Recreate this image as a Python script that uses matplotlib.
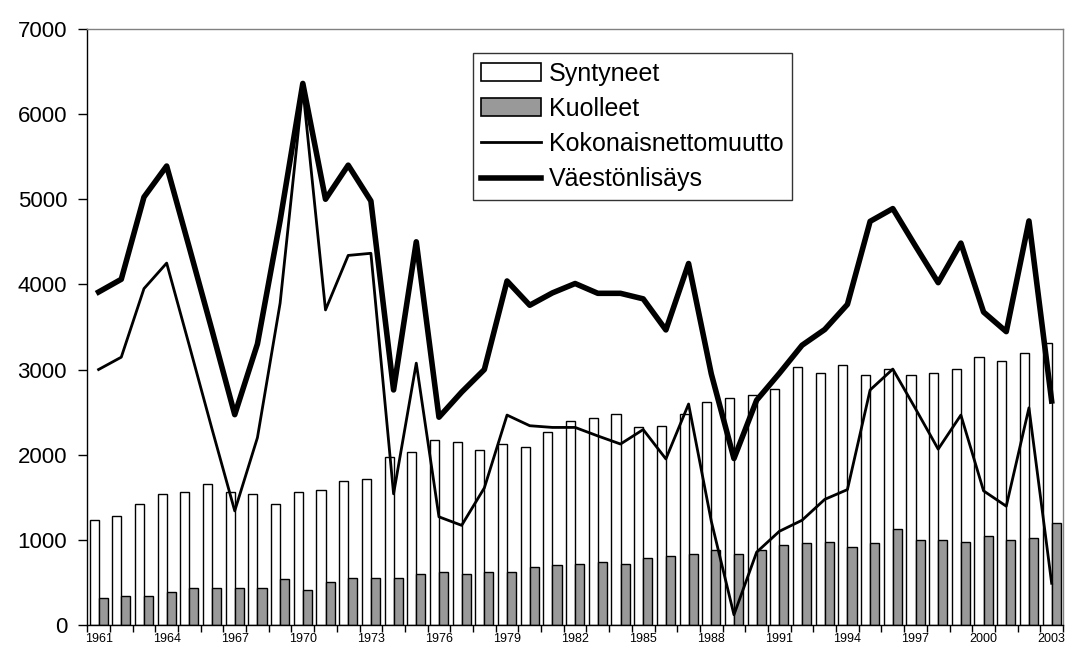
import numpy as np
import matplotlib
matplotlib.use("Agg")
import matplotlib.pyplot as plt
from matplotlib.patches import Patch
from matplotlib.lines import Line2D

plt.rcParams['font.family'] = ['Liberation Sans', 'DejaVu Sans']

# Years 1961-2003
years = list(range(1961, 2004))

syntyneet = [1230, 1280, 1425, 1540, 1560, 1660, 1560, 1540, 1425, 1560,
             1585, 1685, 1710, 1970, 2035, 2170, 2145, 2060, 2120, 2085,
             2270, 2400, 2430, 2480, 2320, 2340, 2480, 2620, 2670, 2700,
             2770, 3030, 2955, 3050, 2935, 3005, 2935, 2955, 3005, 3145,
             3100, 3190, 3310]

kuolleet = [320, 340, 340, 390, 440, 440, 440, 440, 535, 415,
            510, 555, 555, 555, 600, 625, 595, 625, 625, 675,
            700, 720, 740, 720, 790, 810, 835, 880, 835, 880,
            935, 960, 980, 910, 960, 1125, 1000, 1000, 980, 1050,
            1000, 1025, 1200]

nettomuutto = [3000, 3145, 3950, 4250, 3280, 2300, 1340, 2200, 3780, 6300,
               3700, 4340, 4365, 1540, 3075, 1270, 1170, 1610, 2465, 2340,
               2320, 2320, 2220, 2125, 2295, 1950, 2595, 1220, 120, 855,
               1100, 1230, 1475, 1590, 2760, 3005, 2540, 2065, 2465, 1575,
               1395, 2550, 490]

vaestonlisays = [3910, 4060, 5025, 5390, 4430, 3460, 2470, 3300, 4750, 6360,
                 5000, 5400, 4980, 2760, 4500, 2440, 2735, 3000, 4040, 3755,
                 3900, 4010, 3895, 3895, 3830, 3465, 4245, 2950, 1955, 2640,
                 2955, 3285, 3470, 3765, 4740, 4890, 4450, 4020, 4485, 3675,
                 3445, 4745, 2630]

x = np.arange(len(years))
w = 0.4

fig = plt.figure(figsize=(10.77, 6.5), dpi=100)
ax = fig.add_axes([0.081, 0.0385, 0.906, 0.917])

ax.bar(x - w / 2, syntyneet, width=w, color='white', edgecolor='black', linewidth=1.0, zorder=2)
ax.bar(x + w / 2, kuolleet, width=w, color='#999999', edgecolor='black', linewidth=1.0, zorder=2)
ax.plot(x, nettomuutto, color='black', linewidth=2.0, zorder=3)
ax.plot(x, vaestonlisays, color='black', linewidth=4.0, zorder=4)

ax.set_xlim(-0.5, len(years) - 0.5)
ax.set_ylim(0, 7000)
ax.set_yticks(range(0, 7001, 1000))
ax.tick_params(axis='y', labelsize=16, length=6.5, direction='out', width=1, pad=8)

# labels every third year at category centres, ticks at category boundaries
ax.set_xticks(x[::3])
ax.set_xticklabels([str(y) for y in years[::3]], fontsize=9)
ax.set_xticks(np.arange(-0.5, len(years), 1), minor=True)
ax.tick_params(axis='x', which='major', length=0, pad=6)
ax.tick_params(axis='x', which='minor', length=5, direction='out', width=1)

for side in ['top', 'right']:
    ax.spines[side].set_color('#808080')
    ax.spines[side].set_linewidth(1.0)
for side in ['left', 'bottom']:
    ax.spines[side].set_color('black')
    ax.spines[side].set_linewidth(1.0)

handles = [
    Patch(facecolor='white', edgecolor='black', linewidth=1.2),
    Patch(facecolor='#999999', edgecolor='black', linewidth=1.2),
    Line2D([], [], color='black', linewidth=2.0),
    Line2D([], [], color='black', linewidth=4.0),
]
labels = ['Syntyneet', 'Kuolleet', 'Kokonaisnettomuutto', 'Väestönlisäys']
leg = ax.legend(handles, labels, loc='upper left', bbox_to_anchor=(0.395, 0.96),
                fontsize=18, handlelength=2.4, handletextpad=0.3, labelspacing=0.45,
                frameon=True, fancybox=False, borderpad=0.35, borderaxespad=0)
leg.get_frame().set_edgecolor('black')
leg.get_frame().set_linewidth(1.0)

fig.savefig('out.png', dpi=100)
